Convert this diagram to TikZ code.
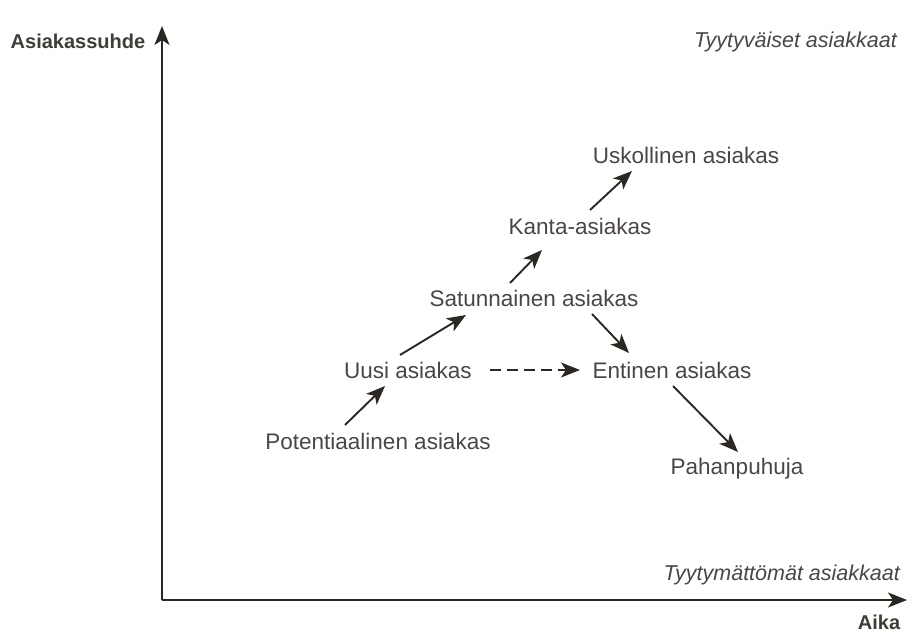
\documentclass[tikz,border=0pt]{standalone}
\usepackage{fontspec}
\setmainfont{Liberation Sans}
\usepackage{tikz}
\usetikzlibrary{positioning, arrows.meta, calc}
\definecolor{inkline}{HTML}{2B2722}
\definecolor{inktext}{HTML}{4A4643}

\begin{document}
\begin{tikzpicture}[
    x=1pt, y=-1pt,
    stage/.style={inner sep=0pt, text=inktext, font=\fontsize{22.5}{26}\selectfont},
    axislabel/.style={inner sep=0pt, text=inkline!90, font=\fontsize{20}{24}\selectfont\bfseries},
    zone/.style={inner sep=0pt, text=inktext, font=\fontsize{21.5}{25}\selectfont\itshape},
    axis/.style={-{Stealth[length=19pt, width=15pt, inset=5pt]}, line width=1.9pt, inkline},
    arr/.style={-{Stealth[length=19pt, width=15pt, inset=5pt]}, line width=1.9pt, inkline}
]
    \useasboundingbox (0,0) rectangle (912,632);
    % axes
    \coordinate (O) at (162,600);
    \coordinate (ytop) at (162,26);
    \coordinate (xend) at (907,600);
    \draw[axis] (O) -- (ytop);
    \draw[axis] (O) -- (xend);
    \node[axislabel] (yl) at (78,41) {Asiakassuhde};
    \node[axislabel] (xl) at (879,622) {Aika};
    \node[zone, anchor=east] (happy) at (897,42) {Tyytyväiset asiakkaat};
    \node[zone, anchor=east] (unhappy) at (900,575) {Tyytymättömät asiakkaat};
    % customer stages
    \node[stage] (pot) at (378,441) {Potentiaalinen asiakas};
    \node[stage] (uusi) at (408,370) {Uusi asiakas};
    \node[stage] (satu) at (534,298) {Satunnainen asiakas};
    \node[stage] (kanta) at (580,226) {Kanta-asiakas};
    \node[stage] (usko) at (686,155) {Uskollinen asiakas};
    \node[stage] (enti) at (672,370) {Entinen asiakas};
    \node[stage] (paha) at (737,469) {Pahanpuhuja};
    % transitions
    \draw[arr] ([shift={(-33,-16)}]pot.center) -- ([shift={(-23,16)}]uusi.center);
    \draw[arr] ([shift={(-8,-15)}]uusi.center) -- ([shift={(-68,17)}]satu.center);
    \draw[arr] ([shift={(-24,-15)}]satu.center) -- ([shift={(-38,24)}]kanta.center);
    \draw[arr] ([shift={(10,-16)}]kanta.center) -- ([shift={(-54,16)}]usko.center);
    \draw[arr] ([shift={(58,16)}]satu.center) -- ([shift={(-43,-17)}]enti.center);
    \draw[arr, dashed, dash pattern=on 11pt off 6pt] ([shift={(82,0)}]uusi.center) -- ([shift={(-92,0)}]enti.center);
    \draw[arr] ([shift={(1,16)}]enti.center) -- ([shift={(1,-17)}]paha.center);
\end{tikzpicture}
\end{document}
